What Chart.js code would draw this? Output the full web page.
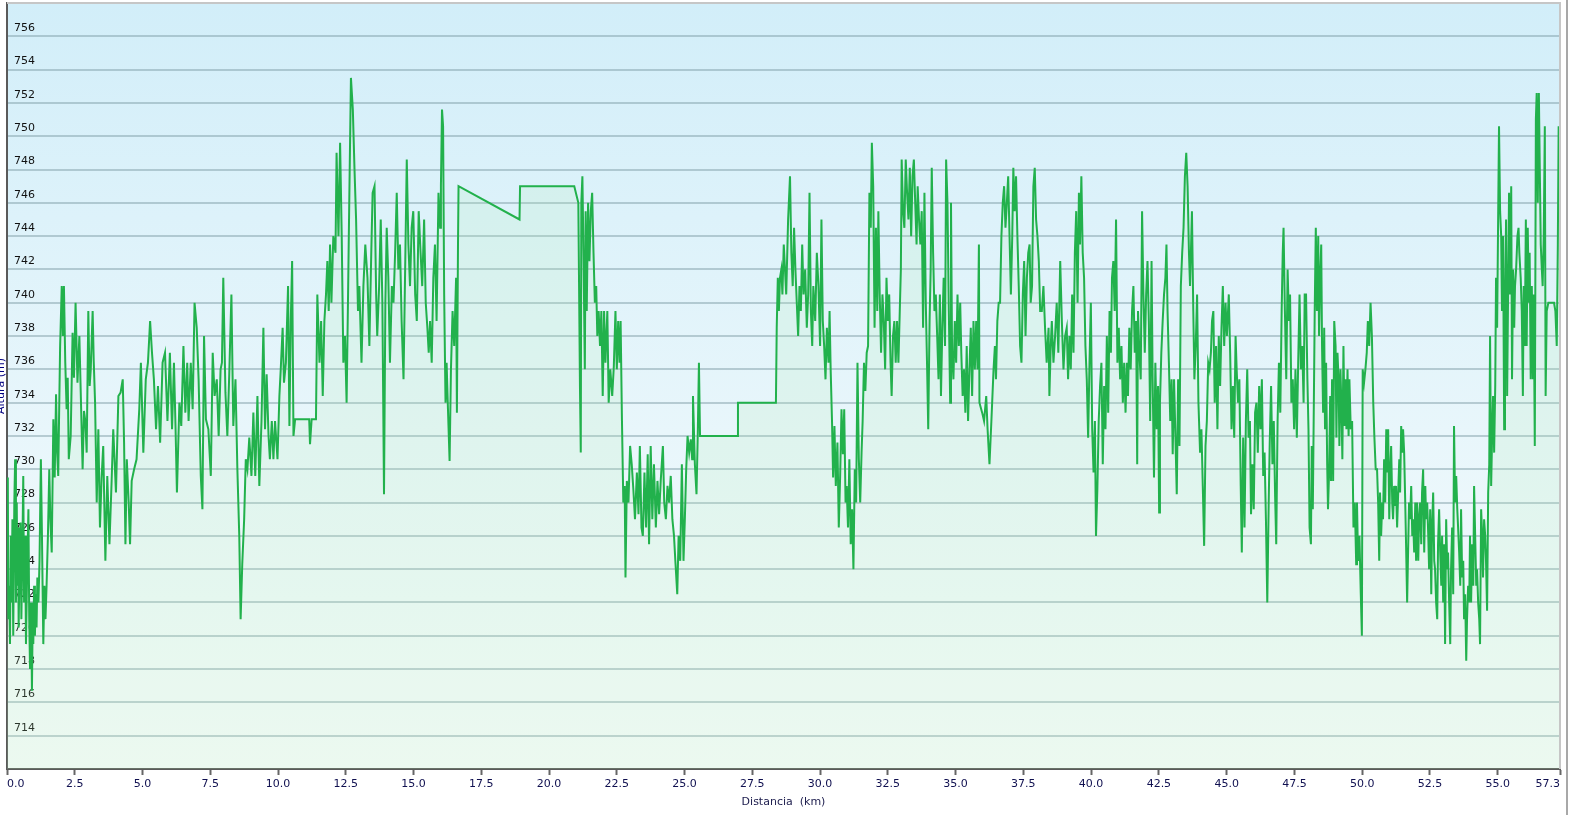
<!DOCTYPE html>
<html>
<head>
<meta charset="utf-8">
<title>Perfil</title>
<script src="https://cdn.jsdelivr.net/npm/chart.js@4/dist/chart.umd.min.js"></script>
<style>
  html, body { margin: 0; padding: 0; background: #fff; }
  #wrap { width: 1573px; height: 815px; position: relative; }
</style>
</head>
<body>
<div id="wrap"><canvas id="profileChart"></canvas></div>
<script>
// distance along the route (km)
const distKm = [
  0.00,0.03,0.05,0.08,0.11,0.14,0.17,0.20,0.23,0.27,
  0.30,0.33,0.36,0.38,0.41,0.43,0.47,0.50,0.53,0.57,
  0.60,0.63,0.67,0.70,0.74,0.79,0.82,0.85,0.89,0.92,
  0.95,0.97,1.00,1.03,1.06,1.09,1.12,1.16,1.20,1.25,
  1.29,1.34,1.38,1.42,1.46,1.51,1.56,1.60,1.65,1.71,
  1.76,1.81,1.85,1.89,1.92,1.96,2.02,2.06,2.10,2.15,
  2.20,2.24,2.28,2.35,2.42,2.47,2.53,2.60,2.67,2.73,
  2.79,2.84,2.89,2.94,3.00,3.05,3.09,3.16,3.20,3.25,
  3.31,3.37,3.43,3.49,3.55,3.63,3.70,3.78,3.86,3.92,
  4.02,4.11,4.19,4.27,4.32,4.37,4.42,4.49,4.54,4.60,
  4.69,4.78,4.88,4.94,5.03,5.12,5.20,5.28,5.35,5.42,
  5.50,5.57,5.65,5.74,5.83,5.92,6.01,6.09,6.16,6.22,
  6.27,6.36,6.43,6.51,6.58,6.65,6.70,6.78,6.85,6.92,
  7.00,7.07,7.15,7.21,7.27,7.34,7.43,7.52,7.59,7.66,
  7.74,7.81,7.88,7.93,7.98,8.06,8.13,8.20,8.28,8.35,
  8.43,8.50,8.57,8.62,8.68,8.75,8.81,8.87,8.94,9.02,
  9.09,9.16,9.24,9.31,9.39,9.46,9.52,
  9.58,9.65,9.70,9.77,9.83,9.89,9.98,10.05,10.10,10.17,
  10.22,10.29,10.37,10.42,10.47,10.52,10.57,10.63,11.15,11.18,
  11.24,11.40,11.45,11.53,11.59,11.65,11.71,11.77,11.82,11.87,
  11.92,11.97,12.04,12.12,12.16,12.23,12.29,12.35,12.41,12.47,
  12.53,12.58,12.63,12.69,12.76,12.82,12.88,12.95,13.00,13.08,
  13.15,13.22,13.30,13.37,13.44,13.49,13.56,13.62,13.66,13.73,
  13.79,13.85,13.91,13.96,14.01,14.07,14.13,14.20,14.26,14.32,
  14.38,14.44,14.50,14.56,14.63,14.69,14.75,14.81,14.87,14.93,
  14.99,15.06,15.12,15.19,15.26,15.32,15.39,15.45,15.51,15.56,
  15.61,15.67,15.73,15.79,15.85,15.92,15.98,16.01,16.05,16.09,
  16.13,16.18,16.22,16.27,16.33,16.38,16.44,16.50,16.57,16.60,
  16.64,16.66,18.91,18.93,
  20.93,21.08,21.14,21.17,21.19,21.23,21.27,21.32,21.35,21.39,
  21.44,21.49,21.54,21.59,21.64,21.69,21.74,21.78,21.83,21.88,
  21.93,21.98,22.03,22.08,22.15,22.20,22.26,22.33,22.39,22.45,
  22.50,22.55,22.60,22.64,22.69,22.74,22.79,22.82,22.87,22.93,
  22.99,23.05,23.11,23.17,23.24,23.30,23.35,23.41,23.46,23.52,
  23.58,23.64,23.69,23.75,23.81,23.87,23.94,24.00,24.06,24.12,
  24.20,24.25,24.31,24.37,24.43,24.49,24.55,24.61,24.66,24.73,
  24.78,24.84,24.90,24.96,25.01,25.06,25.11,25.17,25.23,25.28,
  25.31,25.38,25.44,25.49,25.53,25.57,26.95,26.97,28.37,28.40,
  28.44,28.48,28.52,28.57,28.61,28.66,
  28.75,28.82,28.89,28.94,28.99,29.04,29.09,29.14,29.19,29.24,
  29.29,29.34,29.39,29.45,29.51,29.56,29.61,29.66,29.71,29.75,
  29.82,29.88,29.94,30.00,30.05,30.10,30.15,30.20,30.25,30.31,
  30.35,30.39,30.44,30.48,30.53,30.58,30.64,30.69,30.74,30.79,
  30.84,30.89,30.94,30.98,31.03,31.08,31.13,31.18,31.23,31.28,
  31.33,31.38,31.43,31.48,31.53,31.57,31.62,31.67,31.72,31.77,
  31.82,31.87,31.91,31.96,32.01,32.06,32.11,32.15,32.20,32.25,
  32.30,32.35,32.40,32.45,32.50,32.55,32.60,32.64,32.69,32.74,
  32.79,32.84,32.89,32.94,32.98,33.01,33.06,33.11,33.16,33.21,
  33.26,33.31,33.36,33.41,33.46,33.51,33.56,33.60,33.65,33.70,
  33.75,33.80,33.85,33.90,33.95,33.99,34.04,34.08,34.12,34.17,
  34.22,34.27,34.32,34.37,34.42,34.46,34.51,34.56,34.61,34.65,
  34.70,34.75,34.80,34.83,34.87,34.92,34.97,35.02,35.07,35.12,
  35.17,35.21,35.26,35.31,35.36,35.41,35.46,35.51,35.56,35.61,
  35.66,35.71,35.76,35.81,35.86,35.88,35.98,36.05,36.13,36.18,
  36.25,36.32,36.40,36.45,36.49,36.54,36.59,36.64,36.69,36.74,
  36.79,36.84,36.89,36.94,36.99,37.04,37.09,37.13,37.18,37.23,
  37.28,37.33,37.38,37.43,37.48,37.53,37.58,37.63,37.68,37.73,
  37.77,37.82,37.87,37.92,37.97,38.02,38.07,38.12,
  38.18,38.24,38.30,38.36,38.43,38.46,38.51,38.55,38.61,38.67,
  38.73,38.79,38.86,38.92,38.98,39.04,39.10,39.15,39.20,39.25,
  39.30,39.35,39.40,39.45,39.50,39.55,39.59,39.64,39.69,39.74,
  39.79,39.84,39.89,39.94,39.99,40.04,40.09,40.14,40.18,40.23,
  40.28,40.33,40.38,40.43,40.48,40.53,40.58,40.63,40.68,40.73,
  40.77,40.82,40.87,40.92,40.97,41.02,41.07,41.12,41.17,41.22,
  41.27,41.32,41.36,41.41,41.46,41.51,41.56,41.61,41.66,41.70,
  41.73,41.78,41.83,41.88,41.93,41.98,42.03,42.08,42.13,42.18,
  42.23,42.27,42.32,42.37,42.42,42.47,42.51,42.54,42.59,42.64,
  42.69,42.74,42.78,42.82,42.87,42.92,42.97,43.01,43.06,43.11,
  43.16,43.21,43.26,43.31,43.36,43.41,43.46,43.51,43.56,43.61,
  43.65,43.72,43.77,43.81,43.86,43.91,43.96,44.02,44.07,44.12,
  44.17,44.22,44.27,44.32,44.37,44.42,44.46,44.51,44.56,44.61,
  44.66,44.71,44.76,44.81,44.86,44.91,44.96,45.01,45.08,45.13,
  45.18,45.23,45.28,45.33,45.37,45.42,45.47,45.52,45.56,45.61,
  45.66,45.71,45.76,45.81,45.86,45.90,45.95,46.00,46.05,46.10,
  46.15,46.20,46.25,46.30,46.35,46.40,46.45,46.50,46.55,46.59,
  46.64,46.69,46.74,46.79,46.83,46.88,46.93,46.98,47.03,47.07,
  47.10,47.15,47.20,47.25,47.30,47.34,47.39,47.44,47.49,47.54,
  47.59,47.64,47.69,47.74,47.79,47.84,47.88,
  47.93,47.98,48.02,48.06,48.11,48.14,48.18,48.22,48.25,48.29,
  48.33,48.38,48.41,48.45,48.49,48.52,48.56,48.60,48.63,48.67,
  48.71,48.74,48.78,48.82,48.85,48.89,48.93,48.97,49.02,49.05,
  49.09,49.13,49.16,49.20,49.24,49.27,49.31,49.35,49.38,49.42,
  49.46,49.50,49.53,49.58,49.63,49.68,49.73,49.78,49.81,49.85,
  49.90,49.95,49.99,50.02,50.07,50.12,50.17,50.21,50.26,50.31,
  50.36,50.41,50.45,50.50,50.55,50.59,50.63,50.66,50.70,50.74,
  50.77,50.81,50.85,50.89,50.92,50.96,51.00,51.03,51.07,51.11,
  51.14,51.18,51.22,51.25,51.29,51.33,51.37,51.40,51.44,51.48,
  51.51,51.55,51.59,51.62,51.66,51.70,51.73,51.77,51.81,51.85,
  51.88,51.92,51.96,51.99,52.03,52.07,52.10,52.14,52.18,52.21,
  52.25,52.29,52.33,52.36,52.40,52.44,52.47,52.51,52.55,52.58,
  52.62,52.66,52.69,52.73,52.77,52.80,52.84,52.88,52.92,52.95,
  52.99,53.03,53.06,53.10,53.14,53.17,53.21,53.25,53.28,53.32,
  53.36,53.39,53.43,53.47,53.51,53.54,53.58,53.62,53.65,53.69,
  53.73,53.76,53.80,53.84,53.87,53.91,53.95,53.98,54.02,54.06,
  54.10,54.13,54.17,54.21,54.24,54.28,54.32,54.35,54.39,54.43,
  54.46,54.50,54.54,54.57,54.61,54.65,54.69,54.72,54.76,54.80,
  54.83,54.87,54.91,54.94,54.98,55.02,55.05,55.09,55.13,55.16,
  55.20,55.24,55.27,55.31,55.35,55.39,55.42,55.46,55.50,55.53,
  55.57,55.61,55.64,55.68,55.73,55.77,55.80,55.85,55.89,55.93,
  55.96,56.00,56.04,56.07,56.11,56.15,56.18,56.22,56.26,56.30,
  56.33,56.37,56.41,56.44,56.48,56.52,56.55,56.59,56.63,56.66,
  56.70,56.74,56.77,56.81,56.87,56.93,57.02,57.08,57.13,57.18,
  57.22,57.25,57.28
];

// altitude (m), one value per distance above
const altM = [
  723,729.5,721,723,719.5,726,722,727,720,728,
  730.6,722,728,723,726.5,720.5,725,726.8,721,725.5,
  729.6,722,726,719.5,723.5,727.6,721,718,722,716.7,
  721.5,719.5,723,720,722.5,720.5,723.5,722,724.5,730.6,
  726,719.5,723,721,723,726,730,727,725,733,
  729.5,734.5,731,729.6,733,737.4,741,738,741,736.4,
  733.6,735.5,730.6,732,738.2,735.5,740,735.2,738,734,
  730,733.5,732.9,731,739.5,735,736,739.5,736.5,734,
  728,732.4,726.5,729.5,731.4,724.5,729.6,725.5,729.3,732.4,
  728.6,734.4,734.6,735.4,731.6,725.5,730.6,728,725.5,729.3,
  730,730.6,733.6,736.4,731,735.4,736.4,738.9,737,735.4,
  732.4,735,731.6,736.4,737,732.9,737,732.4,736.4,732.4,
  728.6,734,732.6,737.4,733.4,736.4,732.9,736.4,733.6,740,
  738.5,735.4,729.6,727.6,738,733,732.4,729.6,737,734.4,
  735.4,732,736,736.4,741.5,734.6,732,735.7,740.5,732.6,
  735.4,730,726,721,724.3,727,730.6,730,731.9,729.6,
  733.4,729.6,734.4,729,732.9,738.5,732.4,
  735.7,732,730.6,732.9,730.6,732.9,730.6,734.4,736,738.5,
  735.2,736.4,741,732.6,738.9,742.5,732,733,733,731.5,
  733,733,740.5,736.4,738.9,734.4,738.9,740.5,742.5,739.5,
  743.5,740,744,743,749,744,749.6,744,736.4,738,
  734,740,746.3,753.5,751.6,748.1,745,739.5,741,736.4,
  741,743.5,741.5,737.4,743,746.6,747,740.5,738,741,
  745,740,728.5,740,744.5,741.5,736.4,741,740,743,
  746.6,742,743.5,738.9,735.4,742,748.6,743.5,741,744.5,
  745.5,740.5,738.9,745.5,743,741,745,740,738.5,737,
  738.9,736.4,741.5,743.5,738.9,746.6,744.5,747,751.6,750.6,
  740.5,734,736.4,733.6,730.5,736,739.5,737.4,741.5,733.4,
  743.5,747,745,747,
  747,746,735,731,746,747.6,743,736,745.5,739.5,
  746,742.5,745.5,746.6,743,740,741,738,739.5,737.4,
  739.5,734.4,739.5,736.4,739.5,734,736,734.4,736.2,739.5,
  736,738.9,736.4,738.9,732.9,728,729,723.5,729.3,728,
  731.4,730.3,728.8,727,729.8,727.3,731.4,726.5,726,729.8,
  726.5,730.9,725.5,731.4,727,730.3,726.5,729.3,727.3,729.3,
  731.4,728,727,729,728,729.6,727,726,724.5,722.5,
  726,724.5,730.3,724.5,727,730,732,731,731.8,730.6,
  734.4,730.3,728.5,732.4,736.4,732,732,734,734,738.5,
  741.5,739.5,741.5,742,740.5,743.5,
  740.5,745,747.6,743,741,744.5,742,740,738,741,
  739.5,743.5,740.5,742,738.5,740.5,746.6,739.5,737.4,741,
  738.9,743,741,737.4,745,738.9,737.4,735.4,738.5,736.4,
  739.5,736,732.9,729.5,732.6,729,731.6,726.5,729.6,733.6,
  730.9,733.6,728,729,726.5,730.6,725.5,727.6,724,730,
  728,736.4,730.6,728,731,732.9,736.4,734.7,737,737.4,
  746.6,744.5,749.6,747,738.5,744.5,739.5,745.5,740.5,737,
  740.5,738.9,736,741.5,738.9,740.5,736.4,734.4,738,738.9,
  736.4,738.9,736.4,739.5,742,748.6,745.5,744.5,748.6,746.6,
  745,748.1,744,747.6,748.6,746,743.5,747,745,743.5,
  745.5,738.5,746.6,740,736,732.4,738.9,742,748.1,743,
  739.5,740.5,738,735.4,740.5,734.4,738.5,741.5,737.4,748.6,
  746,739.5,734,746,737,735.4,738.9,736.4,740.5,737.4,
  740,737,734.4,736,733.4,737.4,732.9,736,738.5,734.4,
  738.9,736,738.9,736,743.5,734,733.4,732.9,734.4,732.4,
  730.3,732.9,736,737.4,735.4,738.9,740,740,744,746,
  747,744.5,746,747.6,744,740.5,744,748.1,745.5,747.6,
  744,741,737.4,736.4,740.5,742.5,738,741.5,743,743.5,
  740,741,747,748.1,745,744,742.5,739.5,
  739.5,741,738.5,736.4,738.5,734.4,737.4,738.9,736.4,738,
  740,737,742.5,738.9,736,738,738.5,735.4,738,736,
  740.5,737,743,745.5,740,746.6,743.5,747.6,743,741.5,
  737.4,735.4,731.9,736.4,740,732.4,729.8,732.9,726,728.8,
  732.9,735,736.4,730.3,735,732.4,738,733.4,739.5,737,
  741.5,742.5,739.5,745,736.4,738.5,735.4,737.4,734,736.4,
  733.4,736.4,734.4,738.5,736,739.5,741,737,738.9,730.3,
  739.5,737,735.4,745.5,740.5,737,740.5,742.5,738.9,732.9,
  742.5,735.4,729.5,736.4,732.4,735,727.4,734,737,738.9,
  740.5,741.5,743.5,739.5,736.4,732.9,735.4,730.9,735.4,732,
  728.5,735.4,731.4,741,743,744.5,747.6,749,747,743,
  741,745.5,739.5,735.4,737.4,740.5,734,731,732.4,729,
  725.4,731.4,732.9,736.4,736,737,738.9,739.5,734,737.4,
  732.4,738,735,738.5,741,737.4,740,738,740.5,737,
  732.4,735,731.9,738,736,734,735.4,729,725,731.9,
  726.5,732.9,736,731.9,732.9,727.3,730.3,727.6,733.4,734,
  731,735,732.4,735.4,729.6,731,727,722,727.8,731.6,
  735,730.3,732.9,728.3,725.5,732.9,736.4,733.4,739.5,743,
  744.5,739.5,735.4,742,738.9,740.5,734,735.4,732.4,736,
  731.9,736.4,740.5,736,737.4,734,740.5,
  740.5,735.4,732.4,726.5,725.5,731.4,727.6,734.4,739.5,744.5,
  739.5,744,738,741.5,743.5,737.4,733.4,738.5,732.4,736.4,
  730.3,727.6,729.8,734.4,729.3,735.4,729.3,738.9,737.4,731.9,
  737,735.4,731.4,736,733.4,730.6,737.4,732.6,735.4,732.4,
  736,732,735.4,732.4,732.9,726.5,728,724.3,728,724.5,
  726,722.5,720,736,735.2,736,737,738.9,737.4,740,
  738,734,732,730,730,728,724.5,728.6,726,728,
  727,730.6,728,732.4,729.8,732.4,727,729.6,731.4,728,
  727,729,727.8,729,726.5,728.6,730.6,728.6,732.6,731,
  732.4,731,728,725.5,722,725.5,728,727,729,726,
  727,725,728,724.5,728,724.5,727,728,725.5,728.6,
  730,725,729,727,728,726,724,727.6,722.5,726.5,
  728.6,724.5,724,722,721,725.5,727.6,725,723,726,
  722,725.5,719.5,727,724,725,722,719.5,724,726.5,
  722.5,732.6,728,729.6,727.6,726.5,725,723,727.6,723.5,
  724.5,721,722.5,718.5,721,723,722,726,722,725.5,
  723,729,726,723,724,722,721,719.5,727.6,726,
  723.5,727,726,724.5,721.5,728.6,730.3,738,729,732.4,
  734.4,731,735,741.5,738.5,745.5,750.6,745.5,744,739.5,
  744,732.4,739.5,745,734.4,741.5,746.6,740.5,747,735.4,
  742,738.5,741,742,744,744.5,743,741.5,739.5,734.4,
  741,737.4,745,737.4,744.5,740,743,735.4,741,735.4,
  740.5,731.4,751,752.6,746,752.6,748.6,743.5,742,741,
  744,750.6,734.4,739.5,740,740,740,740,739.5,737.4,
  743.5,750.6,748.1
];

const xTickVals = [0, 2.5, 5, 7.5, 10, 12.5, 15, 17.5, 20, 22.5, 25, 27.5, 30,
  32.5, 35, 37.5, 40, 42.5, 45, 47.5, 50, 52.5, 55, 57.3];
const yTickVals = [714, 716, 718, 720, 722, 724, 726, 728, 730, 732, 734, 736, 738,
  740, 742, 744, 746, 748, 750, 752, 754, 756];
const xTitle = 'Distancia  (km)';
const yTitle = 'Altura (m)';

const fontFamily = 'Verdana, "DejaVu Sans", sans-serif';
const ctx = document.getElementById('profileChart').getContext('2d');

const points = distKm.map((d, i) => ({ x: d, y: altM[i] }));

// paints the plot background and the frame lines
const framePlugin = {
  id: 'frame',
  beforeDraw(chart) {
    const { ctx: c, chartArea: a } = chart;
    const g = c.createLinearGradient(0, a.top, 0, a.bottom);
    g.addColorStop(0, '#d2eef9');
    g.addColorStop(0.56, '#e8f6fb');
    g.addColorStop(1, '#f8fcfd');
    c.save();
    c.fillStyle = g;
    c.fillRect(a.left, a.top, a.right - a.left, a.bottom - a.top);
    c.restore();
  },
  afterDraw(chart) {
    const { ctx: c, chartArea: a, height } = chart;
    c.save();
    c.strokeStyle = '#c6c6c6';
    c.lineWidth = 2;
    c.beginPath();
    c.moveTo(a.left, a.top);
    c.lineTo(a.right, a.top);
    c.lineTo(a.right, a.bottom);
    c.stroke();
    c.strokeStyle = '#a8a8a8';
    c.beginPath();
    c.moveTo(1567, 0);
    c.lineTo(1567, height);
    c.stroke();
    // y axis title, half cut by the left edge as in the source
    c.translate(4, (a.top + a.bottom) / 2);
    c.rotate(-Math.PI / 2);
    c.fillStyle = '#000080';
    c.font = '11px ' + fontFamily;
    c.textAlign = 'center';
    c.textBaseline = 'alphabetic';
    c.fillText(yTitle, 0, 0);
    c.restore();
  }
};

new Chart(ctx, {
  type: 'line',
  data: {
    datasets: [{
      data: points,
      borderColor: '#22b14c',
      borderWidth: 2,
      pointRadius: 0,
      tension: 0,
      fill: 'start',
      backgroundColor: 'rgba(180,240,175,0.17)'
    }]
  },
  options: {
    responsive: true,
    maintainAspectRatio: false,
    animation: false,
    devicePixelRatio: 1,
    layout: { padding: { left: 7, right: 13, top: 3, bottom: 0 } },
    plugins: {
      legend: { display: false },
      tooltip: { enabled: false }
    },
    scales: {
      x: {
        type: 'linear',
        min: 0,
        max: 57.3,
        afterBuildTicks: axis => { axis.ticks = xTickVals.map(v => ({ value: v })); },
        afterFit: axis => { axis.height = 46; axis.paddingLeft = 0; axis.paddingRight = 0; },
        ticks: {
          autoSkip: false,
          maxRotation: 0,
          align: 'inner',
          padding: 3,
          color: '#101050',
          font: { family: fontFamily, size: 11 },
          callback: v => Number(v).toFixed(1)
        },
        grid: {
          drawOnChartArea: false,
          drawTicks: true,
          tickLength: 6,
          tickColor: '#666',
          tickWidth: 2
        },
        border: { display: true, color: '#5a5a5a', width: 2 },
        title: {
          display: true,
          text: xTitle,
          color: '#202050',
          font: { family: fontFamily, size: 11 },
          padding: { top: 0, bottom: 6 }
        }
      },
      y: {
        min: 712,
        max: 758,
        afterBuildTicks: axis => { axis.ticks = yTickVals.map(v => ({ value: v })); },
        afterFit: axis => { axis.width = 0; axis.paddingTop = 0; axis.paddingBottom = 0; },
        ticks: {
          mirror: true,
          padding: 7,
          labelOffset: -8,
          color: '#111',
          font: { family: fontFamily, size: 11 }
        },
        grid: {
          color: 'rgba(120,150,160,0.45)',
          lineWidth: 2,
          drawTicks: false
        },
        border: { display: true, color: '#5a5a5a', width: 2 }
      }
    }
  },
  plugins: [framePlugin]
});
</script>
</body>
</html>
